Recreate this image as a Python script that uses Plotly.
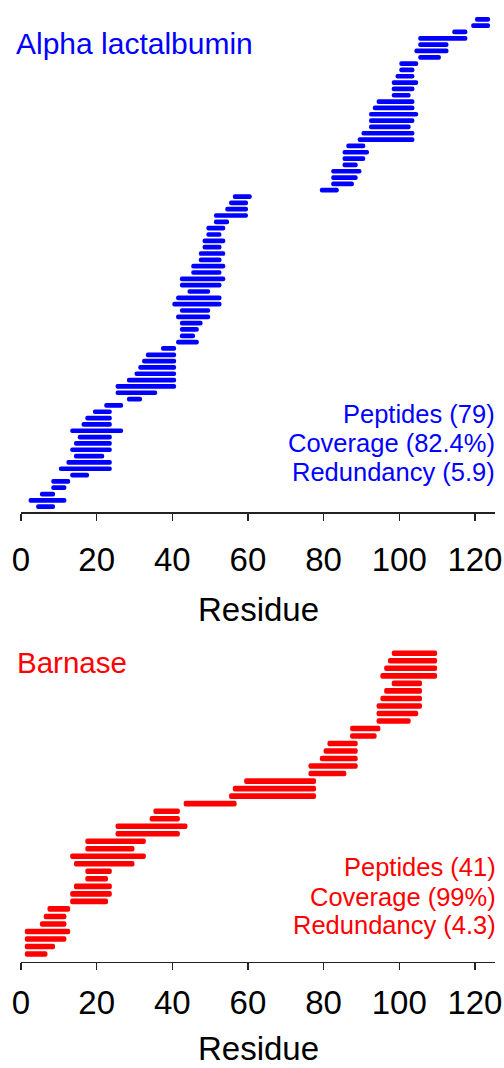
import plotly.graph_objects as go

# ---- data ----
alpha_start = [120, 119, 114, 105, 105, 104, 105, 100, 100, 99, 98, 98, 98, 94, 93, 92, 92, 92, 90, 89,
               86, 85, 85, 85, 82, 82, 82, 79,
               56, 55, 54, 51, 51, 49, 49, 48, 48, 47, 47, 45, 45, 42, 42, 44, 41, 40, 42, 41, 42, 42, 42, 41,
               37, 33, 32, 31, 30, 28, 25, 25, 28, 22, 19, 17, 16, 13, 15, 14, 13, 14, 12, 10, 13, 8, 8, 5, 2, 4]
alpha_end = [124, 124, 118, 118, 113, 113, 111, 105, 104, 104, 105, 104, 103, 104, 104, 105, 104, 103, 104, 104,
             91, 92, 91, 89, 90, 89, 88, 84,
             61, 60, 60, 60, 55, 54, 53, 54, 53, 54, 53, 54, 53, 54, 53, 50, 53, 53, 50, 50, 48, 47, 46, 47,
             41, 41, 41, 41, 41, 41, 41, 36, 32, 27, 24, 24, 24, 27, 24, 24, 24, 22, 24, 24, 18, 13, 12, 9, 12, 9]

barnase_start = [98, 97, 96, 95, 98, 96, 95, 94, 94, 94, 87, 87, 81, 80, 79, 76, 76, 59, 56, 55,
                 43, 35, 34, 25, 25, 17, 17, 13, 14, 17, 17, 14, 13, 13, 7, 6, 5, 1, 1, 1, 1]
barnase_end = [110, 110, 110, 110, 106, 106, 106, 106, 105, 103, 95, 94, 89, 89, 89, 89, 86, 78, 78, 78,
               57, 42, 42, 44, 42, 33, 30, 33, 30, 24, 23, 24, 24, 23, 13, 12, 12, 13, 12, 9, 7]

alpha_stats = ["Peptides (79)", "Coverage (82.4%)", "Redundancy (5.9)"]
barnase_stats = ["Peptides (41)", "Coverage (99%)", "Redundancy (4.3)"]
tick_vals = [0, 20, 40, 60, 80, 100, 120]

FONT = "Liberation Sans, Arial, sans-serif"
BLUE = "#0000FF"
RED = "#FF0000"
W, H = 504, 1068

def rows(n):
    return [n - i for i in range(n)]

fig = go.Figure()
fig.add_trace(go.Bar(
    orientation="h", base=alpha_start,
    x=[e - s for s, e in zip(alpha_start, alpha_end)],
    y=rows(len(alpha_start)), width=0.74,
    marker=dict(color=BLUE, line=dict(width=0), cornerradius=2),
    xaxis="x", yaxis="y", hoverinfo="skip"))
fig.add_trace(go.Bar(
    orientation="h", base=barnase_start,
    x=[e - s for s, e in zip(barnase_start, barnase_end)],
    y=rows(len(barnase_start)), width=0.74,
    marker=dict(color=RED, line=dict(width=0), cornerradius=2),
    xaxis="x2", yaxis="y2", hoverinfo="skip"))

def px_y(p):
    return 1 - p / H

xcommon = dict(range=[0, 125.3], domain=[21 / W, 495 / W], tickvals=tick_vals, automargin=False,
               showgrid=False, zeroline=False, showline=True, linecolor="#222222", linewidth=1.5,
               ticks="outside", ticklen=7, tickwidth=1.5, tickcolor="#222222",
               tickfont=dict(family=FONT, size=33, color="black"))

fig.update_layout(
    width=W, height=H, margin=dict(l=0, r=0, t=0, b=0, autoexpand=False),
    paper_bgcolor="white", plot_bgcolor="white", showlegend=False, barmode="overlay",
    xaxis=dict(anchor="y", ticklabelstandoff=11, **xcommon),
    yaxis=dict(domain=[px_y(512.3), 1], range=[0.115, 81.05], visible=False, fixedrange=True,
               automargin=False),
    xaxis2=dict(anchor="y2", ticklabelstandoff=4, **xcommon),
    yaxis2=dict(domain=[px_y(961.7), px_y(620)], range=[-0.024, 45.43], visible=False, fixedrange=True,
                automargin=False),
)

ann = []
ann.append(dict(text="Alpha lactalbumin", x=14 / W, y=px_y(43.5), xanchor="left", yanchor="middle",
                font=dict(family=FONT, size=30, color=BLUE)))
for t, yc in zip(alpha_stats, [414, 443, 472]):
    ann.append(dict(text=t, x=496.5 / W, y=px_y(yc), xanchor="right", yanchor="middle",
                    font=dict(family=FONT, size=25.5, color=BLUE)))
ann.append(dict(text="Barnase", x=15 / W, y=px_y(662), xanchor="left", yanchor="middle",
                font=dict(family=FONT, size=29.5, color=RED)))
for t, yc in zip(barnase_stats, [866.7, 896.7, 925]):
    ann.append(dict(text=t, x=497.5 / W, y=px_y(yc), xanchor="right", yanchor="middle",
                    font=dict(family=FONT, size=25.5, color=RED)))
ann.append(dict(text="Residue", x=258 / W, y=px_y(609.5), xanchor="center", yanchor="middle",
                font=dict(family=FONT, size=33, color="black")))
ann.append(dict(text="Residue", x=258 / W, y=0, xanchor="center", yanchor="bottom", borderpad=0,
                font=dict(family=FONT, size=33, color="black")))
for a in ann:
    a.update(xref="paper", yref="paper", showarrow=False)
fig.update_layout(annotations=ann)

fig.write_html("out.html", config={"displayModeBar": False, "staticPlot": True})
